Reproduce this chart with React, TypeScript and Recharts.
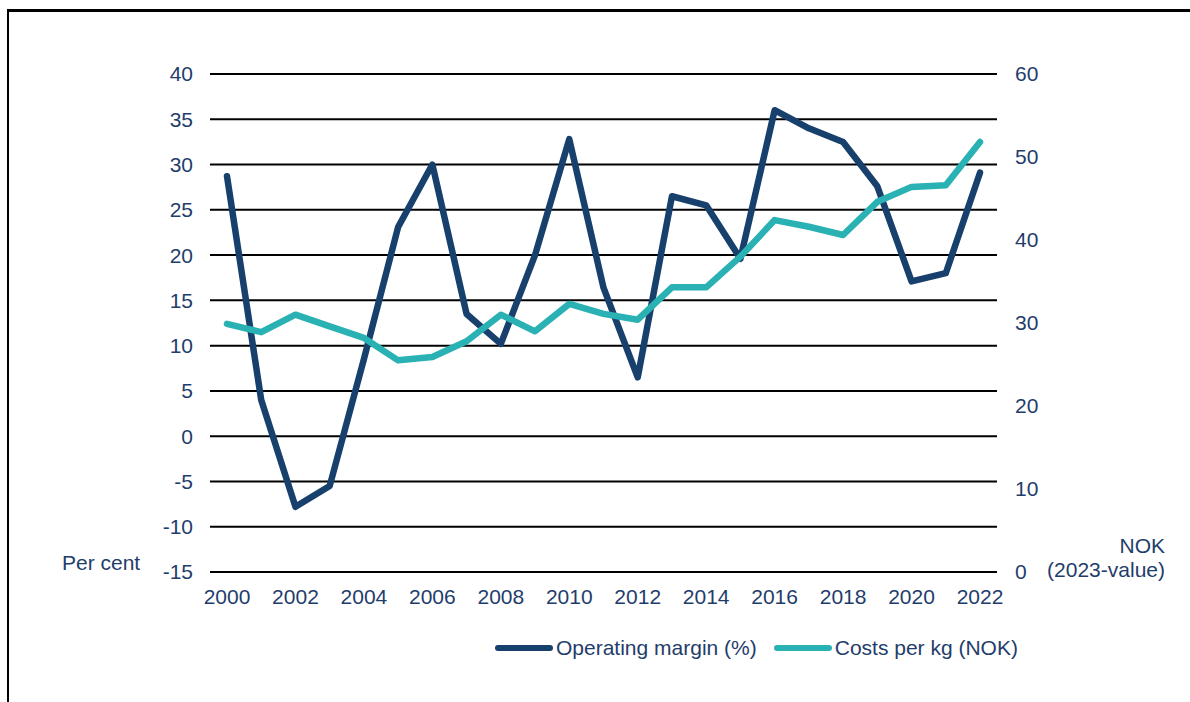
import React from "react";
import { LineChart, Line, XAxis, YAxis, CartesianGrid } from "recharts";

const years = [
  "2000", "2001", "2002", "2003", "2004", "2005", "2006", "2007", "2008", "2009", "2010", "2011",
  "2012", "2013", "2014", "2015", "2016", "2017", "2018", "2019", "2020", "2021", "2022",
];

const operatingMargin = [
  28.7, 4.0, -7.8, -5.5, 8.5, 23.1, 30.0, 13.5, 10.2, 20.0, 32.8, 16.4,
  6.5, 26.5, 25.5, 19.6, 36.0, 34.0, 32.5, 27.6, 17.1, 18.0, 29.1,
];

const costsPerKg = [
  29.9, 28.9, 31.0, 29.6, 28.2, 25.5, 25.9, 27.8, 31.0, 29.0, 32.3, 31.1,
  30.4, 34.3, 34.3, 38.0, 42.4, 41.6, 40.6, 44.6, 46.4, 46.6, 51.8,
];

const leftTicks = [-15, -10, -5, 0, 5, 10, 15, 20, 25, 30, 35, 40];
const rightTicks = [0, 10, 20, 30, 40, 50, 60];

const NAVY = "#17406d";
const TEAL = "#2ab1b3";
const TEXT = "#1f3d6b";
const FONT = "'Liberation Sans', Arial, sans-serif";

const data = years.map((year, i) => ({
  year,
  margin: operatingMargin[i],
  costs: costsPerKg[i],
}));

const tickStyle = { fill: TEXT, fontSize: 21, fontFamily: FONT };

const LegendItem = ({ color, label }: { color: string; label: string }) => (
  <div style={{ display: "flex", alignItems: "center", marginRight: 17 }}>
    <div
      style={{
        width: 58,
        height: 6,
        borderRadius: 3,
        background: color,
        marginRight: 3,
      }}
    />
    <span>{label}</span>
  </div>
);

export default function App() {
  return (
    <div
      style={{
        position: "absolute",
        left: 0,
        top: 0,
        width: 1190,
        height: 702,
        background: "#fff",
        fontFamily: FONT,
        color: TEXT,
        overflow: "hidden",
      }}
    >
      {/* frame */}
      <div style={{ position: "absolute", left: 7, top: 9, width: 1183, height: 3, background: "#000" }} />
      <div style={{ position: "absolute", left: 7, top: 9, width: 2, height: 693, background: "#000" }} />

      <div style={{ position: "absolute", left: 0, top: 0 }}>
        <LineChart
          width={1190}
          height={702}
          data={data}
          margin={{ top: 74, right: 113, bottom: 90, left: 130 }}
        >
          <CartesianGrid vertical={false} stroke="#000" strokeWidth={2} yAxisId="left" />
          <XAxis
            dataKey="year"
            interval={1}
            axisLine={false}
            tickLine={false}
            tickSize={0}
            tickMargin={17}
            height={40}
            padding={{ left: 17, right: 17 }}
            tick={tickStyle}
          />
          <YAxis
            yAxisId="left"
            orientation="left"
            domain={[-15, 40]}
            ticks={leftTicks}
            interval={0}
            width={80}
            axisLine={false}
            tickLine={false}
            tickSize={0}
            tickMargin={17}
            tick={tickStyle}
          />
          <YAxis
            yAxisId="right"
            orientation="right"
            domain={[0, 60]}
            ticks={rightTicks}
            interval={0}
            width={80}
            axisLine={false}
            tickLine={false}
            tickSize={0}
            tickMargin={18}
            tick={tickStyle}
          />
          <Line
            yAxisId="left"
            type="linear"
            dataKey="margin"
            name="Operating margin (%)"
            stroke={NAVY}
            strokeWidth={6.5}
            strokeLinecap="round"
            strokeLinejoin="round"
            dot={false}
            isAnimationActive={false}
          />
          <Line
            yAxisId="right"
            type="linear"
            dataKey="costs"
            name="Costs per kg (NOK)"
            stroke={TEAL}
            strokeWidth={6.5}
            strokeLinecap="round"
            strokeLinejoin="round"
            dot={false}
            isAnimationActive={false}
          />
        </LineChart>
      </div>

      <div style={{ position: "absolute", left: 62, top: 551, fontSize: 21, lineHeight: "24px" }}>
        Per cent
      </div>
      <div
        style={{
          position: "absolute",
          right: 1190 - 1165,
          top: 534,
          fontSize: 21,
          lineHeight: "24px",
          textAlign: "right",
        }}
      >
        NOK
        <br />
        (2023-value)
      </div>

      <div
        style={{
          position: "absolute",
          left: 495,
          top: 636,
          display: "flex",
          fontSize: 21,
          lineHeight: "24px",
        }}
      >
        <LegendItem color={NAVY} label="Operating margin (%)" />
        <LegendItem color={TEAL} label="Costs per kg (NOK)" />
      </div>
    </div>
  );
}
